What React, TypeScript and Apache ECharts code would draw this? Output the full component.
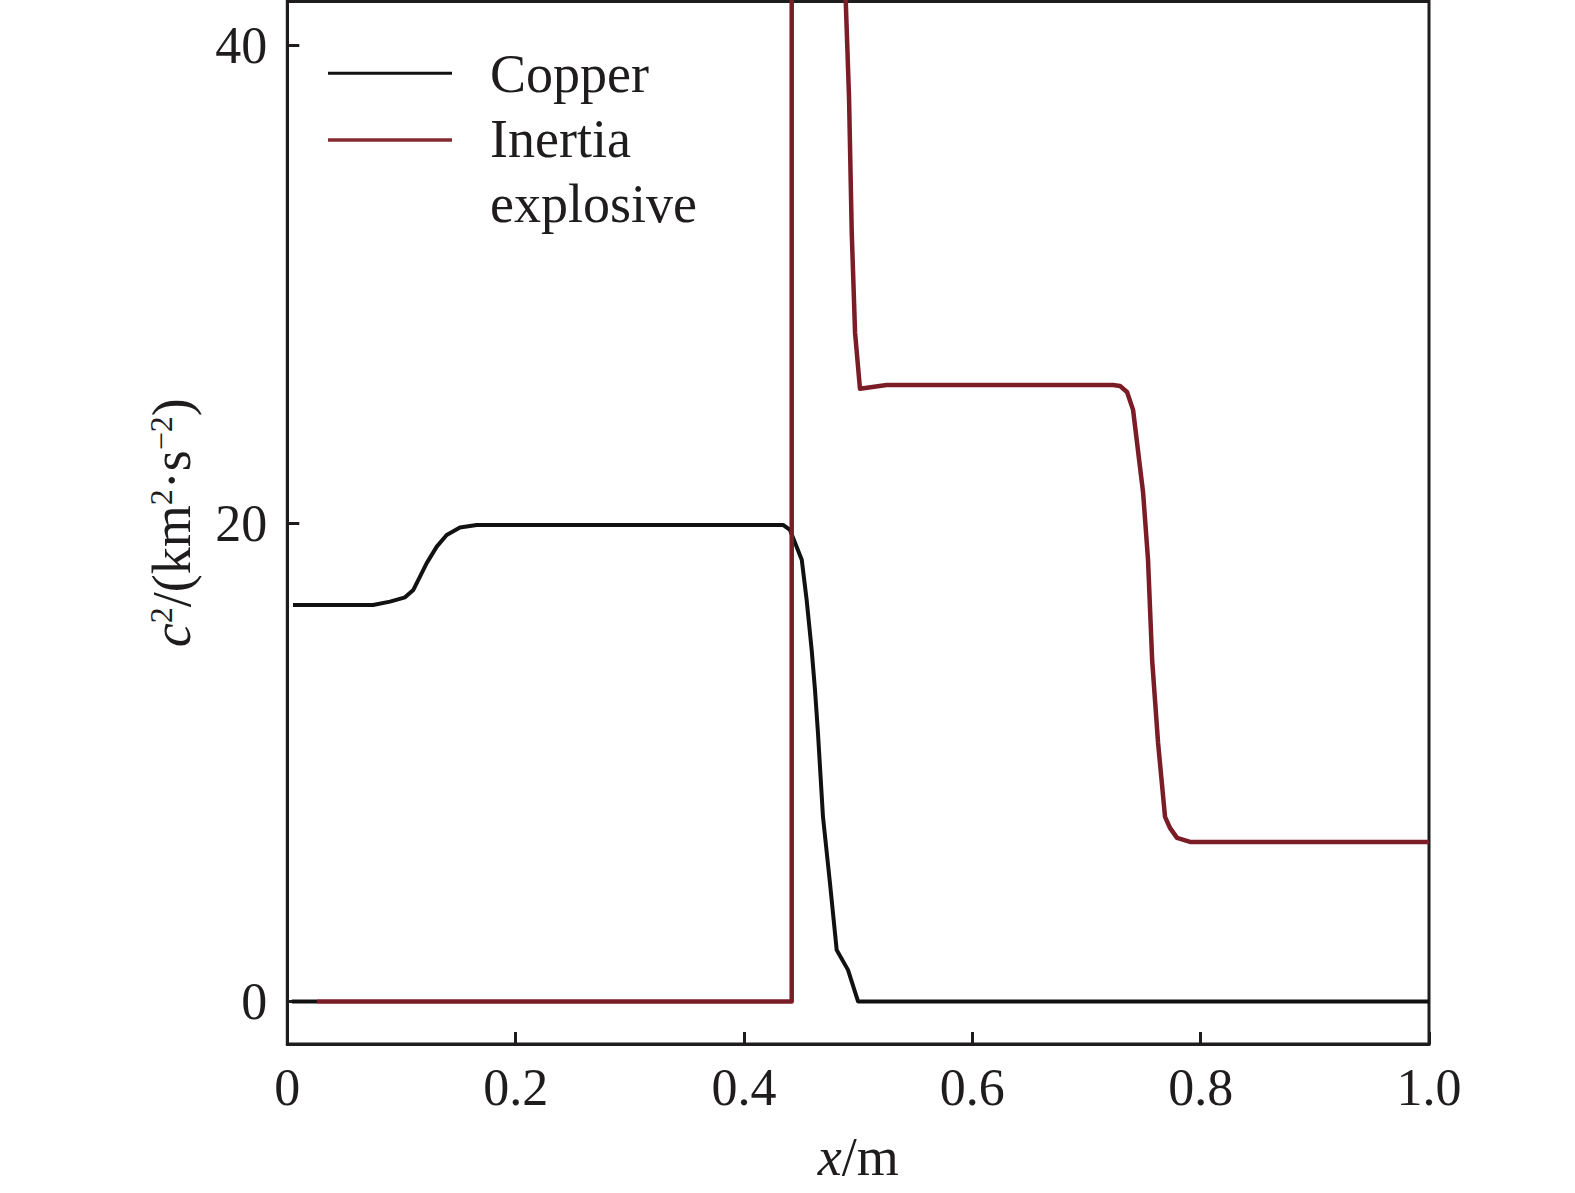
import React, { useEffect, useRef } from "react";
import * as echarts from "echarts";

// ---- data ----
const xTicks = [0, 0.2, 0.4, 0.6, 0.8, 1.0];
const yTicks = [0, 20, 40];

// Copper: a short stub at 0 near the origin, then the main curve (null = gap)
const copperX = [0.004, 0.026, 0.03, 0.005, 0.0751, 0.09, 0.1031, 0.1104, 0.1162, 0.1221, 0.1309, 0.1396, 0.1512, 0.1659, 0.4342, 0.4403, 0.4506, 0.4549, 0.4593, 0.4622, 0.4648, 0.4692, 0.4753, 0.4812, 0.4911, 0.4999, 1.0];
const copperY = [0, 0, null, 16.58, 16.58, 16.72, 16.9, 17.21, 17.77, 18.33, 19.02, 19.51, 19.82, 19.93, 19.93, 19.72, 18.47, 16.79, 14.7, 13.03, 11.23, 7.72, 4.96, 2.15, 1.32, 0, 0];

// Inertia explosive (its spike runs above the plotted range)
const explosiveX = [0.026, 0.4418, 0.4418, 0.4868, 0.4891, 0.492, 0.4944, 0.4973, 0.5016, 0.525, 0.7232, 0.7294, 0.7355, 0.7408, 0.7496, 0.7539, 0.7575, 0.7627, 0.7688, 0.7731, 0.7793, 0.7907, 1.0];
const explosiveY = [0, 0, 46, 46, 41.89, 37.83, 32.14, 27.96, 25.62, 25.78, 25.78, 25.74, 25.49, 24.74, 21.27, 18.47, 14.28, 10.81, 7.72, 7.26, 6.84, 6.67, 6.67];

const seriesNames = ["Copper", "Inertia explosive"];
const legendLines = ["Copper", "Inertia", "explosive"];

const FONT = '"Liberation Serif", "Times New Roman", serif';
const INK = "#1f1c1d";
const COPPER_COLOR = "#111111";
const EXPLOSIVE_COLOR = "#7b1d27";

const zip = (xs: number[], ys: (number | null)[]) => xs.map((x, i) => [x, ys[i]]);

export default function App() {
  const ref = useRef<HTMLDivElement>(null);

  useEffect(() => {
    if (!ref.current) return;
    const chart = echarts.init(ref.current, null, { renderer: "svg" });
    chart.setOption({
      animation: false,
      backgroundColor: "#ffffff",
      grid: {
        left: 287.3,
        right: 146,
        top: 1.5,
        bottom: 149,
        show: true,
        borderColor: INK,
        borderWidth: 3,
        backgroundColor: "transparent",
      },
      xAxis: {
        type: "value",
        min: 0,
        max: 1.0,
        interval: 0.2,
        name: "{i|x}/m",
        nameLocation: "middle",
        nameGap: 86,
        nameTextStyle: {
          fontFamily: FONT,
          fontSize: 54,
          color: INK,
          rich: {
            i: { fontFamily: FONT, fontSize: 54, fontStyle: "italic", color: INK },
          },
        },
        axisLine: { show: true, onZero: false, lineStyle: { color: INK, width: 3 } },
        axisTick: { show: true, inside: true, length: 12, lineStyle: { color: INK, width: 3 } },
        axisLabel: {
          margin: 17,
          fontFamily: FONT,
          fontSize: 52,
          color: INK,
          formatter: (v: number) => (v === 1 ? "1.0" : String(Math.round(v * 10) / 10)),
        },
        splitLine: { show: false },
      },
      yAxis: {
        type: "value",
        min: -1.78,
        max: 41.82,
        name: "{i|c}{sup|2}/(km{sup|2}·s{sup|−2})",
        nameLocation: "middle",
        nameRotate: 90,
        nameGap: 88,
        nameTextStyle: {
          fontFamily: FONT,
          fontSize: 54,
          color: INK,
          rich: {
            i: { fontFamily: FONT, fontSize: 54, fontStyle: "italic", color: INK },
            sup: { fontFamily: FONT, fontSize: 32, verticalAlign: "top", color: INK },
          },
        },
        axisLine: { show: true, onZero: false, lineStyle: { color: INK, width: 3 } },
        axisTick: {
          show: true,
          inside: true,
          length: 12,
          customValues: yTicks,
          lineStyle: { color: INK, width: 3 },
        },
        axisLabel: {
          margin: 20,
          fontFamily: FONT,
          fontSize: 52,
          color: INK,
          customValues: yTicks,
        },
        splitLine: { show: false },
      },
      series: [
        {
          name: seriesNames[0],
          type: "line",
          data: zip(copperX, copperY),
          showSymbol: false,
          symbol: "none",
          connectNulls: false,
          clip: true,
          lineStyle: { color: COPPER_COLOR, width: 4, join: "round" },
          z: 2,
        },
        {
          name: seriesNames[1],
          type: "line",
          data: zip(explosiveX, explosiveY),
          showSymbol: false,
          symbol: "none",
          clip: true,
          lineStyle: { color: EXPLOSIVE_COLOR, width: 4.5, join: "round" },
          z: 3,
        },
      ],
      graphic: [
        {
          type: "line",
          shape: { x1: 328, y1: 73.3, x2: 452, y2: 73.3 },
          style: { stroke: COPPER_COLOR, lineWidth: 3 },
        },
        {
          type: "line",
          shape: { x1: 328, y1: 140, x2: 452, y2: 140 },
          style: { stroke: "#862a31", lineWidth: 3.5 },
        },
        ...legendLines.map((t, i) => ({
          type: "text",
          x: 490,
          y: 73.5 + i * 65,
          style: {
            text: t,
            fontFamily: FONT,
            fontSize: 54,
            fill: INK,
            align: "left",
            verticalAlign: "middle",
          },
        })),
      ],
    });
    return () => chart.dispose();
  }, []);

  return (
    <div
      ref={ref}
      style={{ position: "absolute", left: 0, top: 0, width: 1575, height: 1193, background: "#fff" }}
    />
  );
}
